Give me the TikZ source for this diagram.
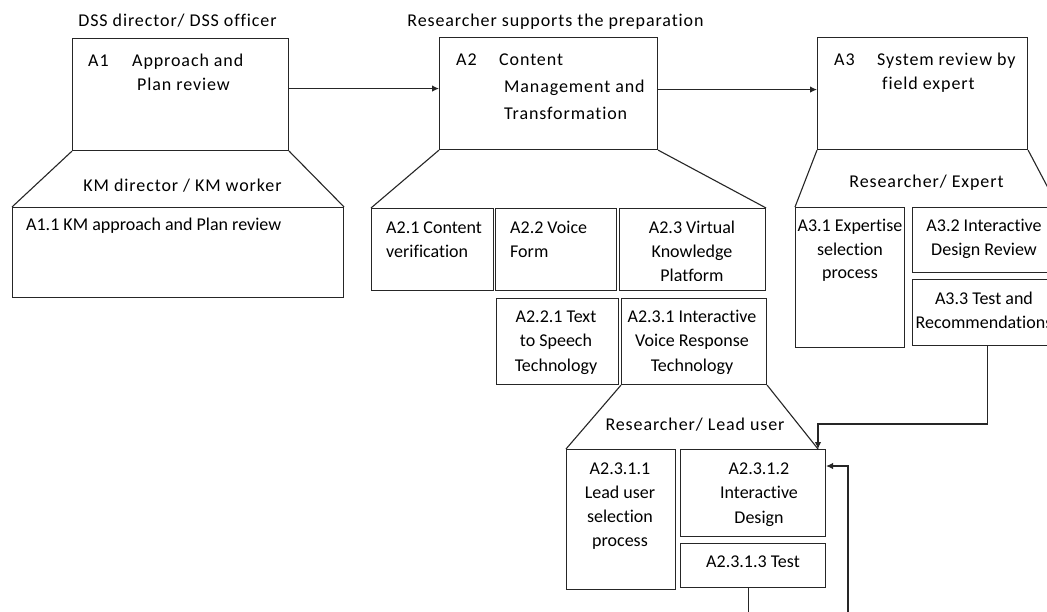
\documentclass[tikz,border=0pt]{standalone}
\usepackage{fontspec}
\setmainfont{Carlito}[Ligatures=NoCommon]
\newfontfamily\widefont[LetterSpace=5.0,Ligatures=NoCommon]{Carlito}
\usetikzlibrary{arrows.meta}
\begin{document}
\begin{tikzpicture}[x=1pt,y=-1pt,
  box/.style={draw=black!85, line width=1.1pt, inner sep=0pt, anchor=north west},
  txt/.style={font=\fontsize{18}{24}\selectfont, inner sep=0pt, align=center, anchor=base},
  ltxt/.style={txt, align=left, anchor=base west},
  wtxt/.style={txt, font=\fontsize{18}{24.5}\widefont},
  wltxt/.style={ltxt, font=\fontsize{18}{24.5}\widefont},
  conn/.style={draw=black!85, line width=1.1pt},
  arr/.style={conn, -{Latex[length=7pt,width=6.5pt]}}]
\useasboundingbox (0,0) rectangle (1047,611);
\clip (0,0) rectangle (1047,611);
\fill[white] (0,0) rectangle (1047,611);

% ---------- A1 ----------
\node[box, minimum width=216pt, minimum height=112pt] (A1) at (72,38) {};
\node[wtxt] (A1lab) at (177.5,26.5) {DSS director/ DSS officer};
\node[wltxt] (A1id) at (88,66.5) {A1};
\node[wltxt] (A1t) at (132,90.5) {Approach and\\\ Plan review};
\node[box, minimum width=331pt, minimum height=90pt] (A11) at (12,207) {};
\node[wtxt] (A11lab) at (182.5,191.7) {KM director / KM worker};
\node[ltxt] (A11t) at (26,230.7) {A1.1 KM approach and Plan review};
\draw[conn] (A1.south west) -- (A11.north west);
\draw[conn] (A1.south east) -- (A11.north east);

% ---------- A2 ----------
\node[box, minimum width=218pt, minimum height=112pt] (A2) at (439,37) {};
\node[wtxt] (A2lab) at (555.5,26) {Researcher supports the preparation};
\node[wltxt] (A2id) at (456,65) {A2};
\node[wltxt, font=\fontsize{18}{27}\widefont] (A2t) at (499,119) {Content\\\ Management and\\\ Transformation};
\node[box, minimum width=122pt, minimum height=82pt] (A21) at (371,208) {};
\node[ltxt] (A21t) at (386,257) {A2.1 Content\\verification};
\node[box, minimum width=121pt, minimum height=82pt] (A22) at (495,208) {};
\node[ltxt] (A22t) at (510,257) {A2.2 Voice\\Form};
\node[box, minimum width=146pt, minimum height=82pt] (A23) at (619,208) {};
\begin{scope}
\clip (619,208) rectangle (765,280);
\node[txt] (A23t) at (692,281.5) {A2.3 Virtual\\Knowledge\\Platform};
\end{scope}
\draw[conn] (A2.south west) -- (A21.north west);
\draw[conn] (A2.south east) -- (A23.north east);
\node[box, minimum width=122pt, minimum height=86pt] (A221) at (496,298) {};
\node[txt, font=\fontsize{18}{24.5}\selectfont] (A221t) at (556,371) {A2.2.1 Text\\to Speech\\Technology};
\node[box, minimum width=145pt, minimum height=86pt] (A231) at (621,298) {};
\node[txt, font=\fontsize{18}{24.5}\selectfont] (A231t) at (692,371) {A2.3.1 Interactive\\Voice Response\\Technology};

% ---------- A2.3.1 children ----------
\node[wtxt] (A231lab) at (695,430.7) {Researcher/ Lead user};
\node[box, minimum width=109pt, minimum height=140pt] (A2311) at (566,449) {};
\node[txt] (A2311t) at (620,546.5) {A2.3.1.1\\Lead user\\selection\\process};
\node[box, minimum width=145pt, minimum height=87pt] (A2312) at (680,449) {};
\node[txt, font=\fontsize{18}{24.5}\selectfont] (A2312t) at (759,523.3) {A2.3.1.2\\Interactive\\Design};
\node[box, minimum width=145pt, minimum height=44pt] (A2313) at (680,543) {};
\node[txt] (A2313t) at (753,567.3) {A2.3.1.3 Test};
\coordinate (j1) at (818,424);
\draw[conn] (A231.south west) -- (A2311.north west);
\draw[conn] (A231.south east) -- (j1 |- A2312.north);

% ---------- A3 ----------
\node[box, minimum width=210pt, minimum height=112pt] (A3) at (817,37) {};
\node[wltxt] (A3id) at (834,65) {A3};
\node[wltxt] (A3t) at (877,89.5) {System review by\\\ field expert};
\node[wtxt] (A3lab) at (926.5,187.7) {Researcher/ Expert};
\node[box, minimum width=109pt, minimum height=140pt] (A31) at (795,207) {};
\node[txt, font=\fontsize{18}{23.3}\selectfont] (A31t) at (850,278.3) {A3.1 Expertise\\selection\\process};
\node[box, minimum width=145pt, minimum height=65pt] (A32) at (912,207) {};
\node[txt, font=\fontsize{18}{23.3}\selectfont] (A32t) at (984,255) {A3.2 Interactive\\Design Review};
\node[box, minimum width=145pt, minimum height=66pt] (A33) at (912,279) {};
\node[txt] (A33t) at (984,328) {A3.3 Test and\\Recommendations};
\draw[conn] (A3.south west) -- (A31.north west);
\draw[conn] (A3.south east) -- (A32.north east);

% ---------- connectors ----------
\draw[arr] ([yshift=6pt]A1.east) -- ([yshift=5pt]A2.west);
\draw[arr] ([yshift=4pt]A2.east) -- ([yshift=4pt]A3.west);
\draw[arr] ([xshift=2.5pt]A33.south) |- (j1) -- (j1 |- A2312.north);
\coordinate (fb) at (848,466);
\draw[arr] ([xshift=-4.5pt]A2313.south) -- ++(0,40) -| (fb) -- (fb -| A2312.east);
\end{tikzpicture}
\end{document}
